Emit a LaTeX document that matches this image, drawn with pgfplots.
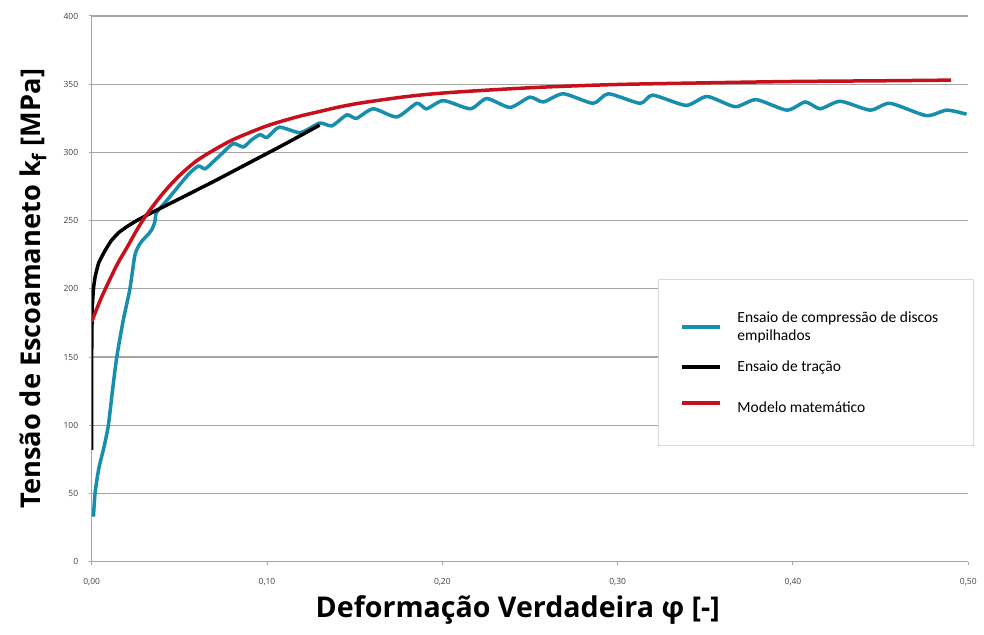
\documentclass[border=0pt]{standalone}
\usepackage{fontspec}
\usepackage{pgfplots}
\pgfplotsset{compat=1.18}
\setmainfont{Open Sans}
\newfontfamily\labelfont{Open Sans}
\newfontfamily\legfont{Carlito}
\definecolor{cblue}{RGB}{23,142,173}
\definecolor{cred}{RGB}{200,16,28}
\definecolor{cgrid}{RGB}{165,165,165}
\begin{document}
\begin{tikzpicture}
\useasboundingbox (-91.7pt,-72.3pt) rectangle (892.3pt,561.7pt);
\begin{axis}[
  scale only axis,
  width=876.6pt, height=545.7pt,
  xmin=0, xmax=0.5, ymin=0, ymax=400,
  axis lines=left,
  axis line style={-, cgrid, line width=1.2pt},
  xtick={0,0.1,0.2,0.3,0.4,0.5},
  ytick={0,50,100,150,200,250,300,350,400},
  tick align=outside,
  major tick length=3pt,
  tick style={cgrid, line width=1pt},
  ymajorgrids,
  grid style={cgrid, line width=1.3pt},
  xticklabel style={font=\fontsize{8.5}{9}\selectfont, text=black!75, yshift=-10pt},
  yticklabel style={font=\fontsize{8.5}{9}\selectfont, text=black!75, xshift=-7pt},
  /pgf/number format/assume math mode=true,
  x tick label style={/pgf/number format/.cd, fixed, fixed zerofill, precision=2, use comma},
  y tick label style={/pgf/number format/.cd, fixed, precision=0},
  xlabel={Deformação Verdadeira φ [-]},
  ylabel={Tensão de Escoamaneto k\textsubscript{f} [MPa]},
  xlabel style={font=\labelfont\bfseries\fontsize{28.6}{32}\selectfont, at={(axis description cs:0.486,-0.0885)}, anchor=center},
  ylabel style={font=\labelfont\bfseries\fontsize{27.2}{32}\selectfont, at={(axis description cs:-0.067,0.5)}, anchor=center},
  legend cell align=left,
  legend style={at={(rel axis cs:0.646,0.518)}, anchor=north west,
    draw=black!15, line width=1pt, fill=white,
    inner xsep=22pt, inner ysep=30pt,
    font=\legfont\fontsize{15.5}{18}\selectfont,
    cells={align=left},
    row sep=15pt, column sep=13pt},
  legend image code/.code={\draw[#1, line width=4pt] (0pt,0pt) -- (38pt,0pt);},
]
\addplot[cblue, line width=3.5pt, smooth, tension=0.4] coordinates {
(0.0010,33) (0.0019,50) (0.0040,68) (0.0070,84) (0.0095,100) (0.0120,127)
(0.0143,150) (0.0180,177) (0.0218,200) (0.0247,225) (0.0280,234) (0.0323,240)
(0.0345,244) (0.0360,249) (0.0370,256) (0.0430,265) (0.0500,276) (0.0560,285)
(0.0610,290) (0.0647,288) (0.0700,294) (0.0750,300) (0.0808,306.5) (0.0865,304)
(0.0910,309) (0.0960,313) (0.1000,311) (0.1070,318.5) (0.1190,314.5) (0.1300,321.5)
(0.1370,319.5) (0.1455,327.5) (0.1510,325) (0.1606,332) (0.1740,326) (0.1854,336)
(0.1910,332) (0.2006,338) (0.2160,332) (0.2253,339.5) (0.2386,333) (0.2499,340.5)
(0.2576,337) (0.2690,343) (0.2860,336) (0.2947,343) (0.3128,336) (0.3200,342)
(0.3390,334.5) (0.3510,341) (0.3670,333.5) (0.3790,338.7) (0.3965,331) (0.4070,337)
(0.4155,332) (0.4270,337.5) (0.4440,331) (0.4554,336) (0.4760,327) (0.4877,331)
(0.4990,328)
};
\addlegendentry{Ensaio de compressão de discos\rule{11pt}{0pt}\\empilhados}
\addplot[black, line width=3.5pt, smooth, tension=0.3] coordinates {
(0.0000,82) (0.0000,150) (0.0003,185) (0.0010,200) (0.0020,209) (0.0040,219)
(0.0076,228) (0.0110,235) (0.0152,241) (0.0200,245.5) (0.0250,249.5) (0.0300,253)
(0.0360,257) (0.0500,266) (0.0700,279) (0.0900,292.5) (0.1100,306) (0.1300,320)
};
\addlegendentry{Ensaio de tração}
\addplot[cred, line width=3.5pt, smooth] coordinates {
(0.000,176) (0.005,192) (0.010,206) (0.015,219) (0.020,230) (0.029,250)
(0.040,269) (0.050,283) (0.060,294) (0.070,302) (0.080,309) (0.090,314.5)
(0.100,319.5) (0.110,323.5) (0.120,327) (0.130,330) (0.140,333) (0.150,335.5)
(0.160,337.5) (0.180,341) (0.200,343.5) (0.230,346) (0.260,348) (0.300,349.8)
(0.350,351) (0.400,352) (0.450,352.5) (0.490,353)
};
\addlegendentry{\rule[-4pt]{0pt}{24pt}Modelo matemático}
\end{axis}
\end{tikzpicture}
\end{document}
